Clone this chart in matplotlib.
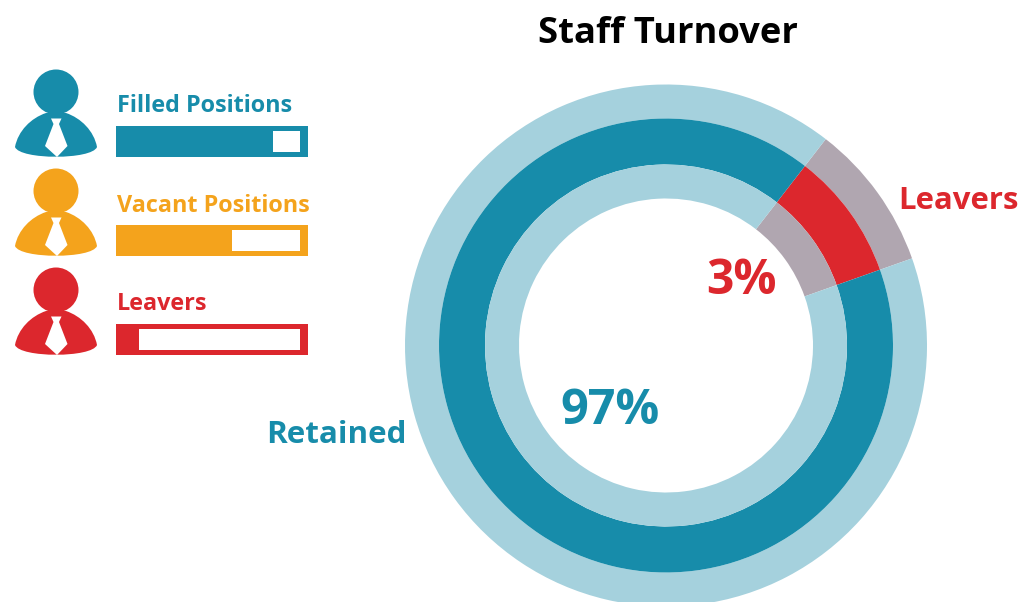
import matplotlib
matplotlib.use("Agg")
import matplotlib.pyplot as plt
from matplotlib.path import Path
from matplotlib.patches import PathPatch, Circle, Rectangle
from matplotlib.transforms import Affine2D

# Data
slice_names = ["Leavers", "Retained"]
slice_shares = [9.1, 90.9]
slice_labels = ["3%", "97%"]
legend_names = ["Filled Positions", "Vacant Positions", "Leavers"]
legend_fill = [0.853, 0.63, 0.125]

BLUE, LIGHT, RED, MUTED, ORANGE = "#178CAA", "#A5D1DD", "#DC272D", "#B0A6B0", "#F4A31C"
legend_colors = [BLUE, ORANGE, RED]
FONT = "Open Sans"

W, H = 1024, 602
fig = plt.figure(figsize=(W / 100, H / 100), dpi=100)
ax = fig.add_axes([0, 0, 1, 1])
Y = lambda y: H - y

# Donut rings
cx, cy = 666, Y(345.5)
rings = [(261, 34, [MUTED, LIGHT]), (227, 46, [RED, BLUE]), (181, 34, [MUTED, LIGHT])]
for radius, width, cols in rings:
    ax.pie(slice_shares, colors=cols, radius=radius, center=(cx, cy), startangle=19.5,
           counterclock=True, frame=True,
           wedgeprops=dict(width=width, linewidth=0))
ax.set_xlim(0, W)
ax.set_ylim(0, H)
ax.set_aspect("auto")
ax.axis("off")

# Person icon, local pixel coordinates
body = Path(
    [(15, 147), (18, 131), (31, 118), (46, 113), (66, 113), (81, 118), (94, 131), (97, 147),
     (92, 160), (20, 160), (15, 147), (15, 147)],
    [Path.MOVETO, Path.CURVE4, Path.CURVE4, Path.CURVE4, Path.LINETO, Path.CURVE4, Path.CURVE4, Path.CURVE4,
     Path.CURVE4, Path.CURVE4, Path.CURVE4, Path.CLOSEPOLY])
tie = Path([(51, 118.5), (61.5, 118.5), (59, 124), (67.5, 146), (57, 157), (45, 146), (53.5, 124), (51, 118.5)],
           closed=True)

for i, (name, frac, col) in enumerate(zip(legend_names, legend_fill, legend_colors)):
    dy = 99 * i
    flip = Affine2D().translate(0, dy).scale(1, -1).translate(0, H)
    ax.add_patch(PathPatch(body, fc=col, ec="none", transform=flip + ax.transData))
    ax.add_patch(PathPatch(tie, fc="white", ec="none", transform=flip + ax.transData, zorder=3))
    ax.add_patch(Circle((56, Y(92 + dy)), 22.5, fc=col, ec="none"))
    # Progress bar
    x0, x1, inner = 116, 308, 300
    ax.add_patch(Rectangle((x0, Y(157 + dy)), x1 - x0, 31, fc=col, ec="none"))
    left = x0 + frac * (inner - x0)
    ax.add_patch(Rectangle((left, Y(152 + dy)), inner - left, 21, fc="white", ec="none", zorder=3))
    ax.text(117, Y(106.5 + dy), name, color=col, fontsize=16.8, fontweight="bold", family=FONT,
            ha="left", va="center")

# Labels
ax.text(667.5, Y(34), "Staff Turnover", color="black", fontsize=26.2, fontweight="bold", family=FONT,
        ha="center", va="center")
ax.text(958, Y(201), slice_names[0], color=RED, fontsize=22.4, fontweight="bold", family=FONT,
        ha="center", va="center")
ax.text(336, Y(435), slice_names[1], color=BLUE, fontsize=22.6, fontweight="bold", family=FONT,
        ha="center", va="center")
ax.text(741.5, Y(281), slice_labels[0], color=RED, fontsize=34.5, fontweight="bold", family=FONT,
        ha="center", va="center")
ax.text(610.5, Y(411), slice_labels[1], color=BLUE, fontsize=35, fontweight="bold", family=FONT,
        ha="center", va="center")

fig.savefig("out.png", dpi=100, facecolor="white")
